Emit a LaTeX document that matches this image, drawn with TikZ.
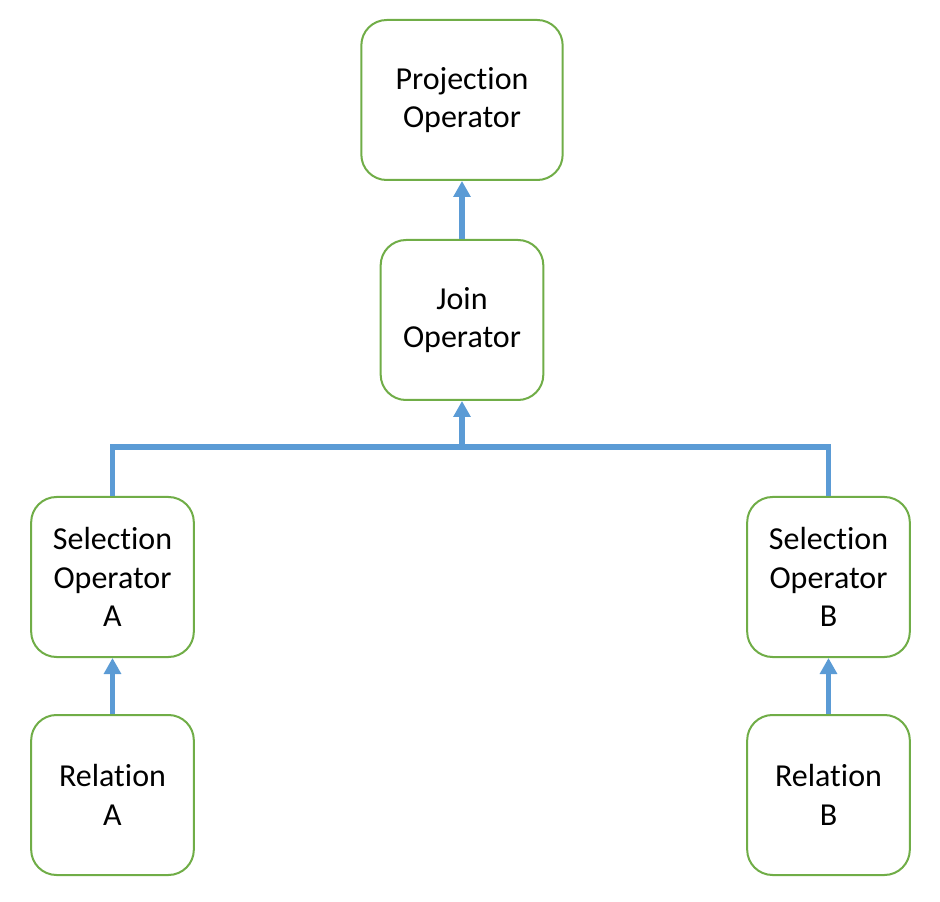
\documentclass[tikz,border=0pt]{standalone}
\usepackage{fontspec}
\setmainfont{Carlito}[Ligatures={NoCommon}]
\usetikzlibrary{arrows.meta}

\definecolor{opgreen}{RGB}{112,173,71}
\definecolor{flowblue}{RGB}{91,155,213}

\tikzset{every picture/.style={line width=0.75pt}}

\begin{document}
\begin{tikzpicture}[x=0.75pt,y=0.75pt,yscale=-1,xscale=1,
  opbox/.style={draw=opgreen,line width=1.5pt,rounded corners=19pt,fill=white,
    minimum width=122pt,minimum height=120pt,align=center,inner sep=0pt,
    font=\fontsize{24}{29}\selectfont},
  flow/.style={draw=flowblue,line width=4pt},
  flowarr/.style={flow,-{Triangle[length=12pt,width=12.5pt]}}]
\useasboundingbox (0,0) rectangle (940,902);

% Operator boxes
\node [opbox,minimum width=151pt] (proj) at (462,100) {Projection\\Operator};
\node [opbox] (join) at (462,320) {Join\\Operator};
\node [opbox] (selA) at (112.5,577) {Selection\\Operator\\A};
\node [opbox] (selB) at (828.5,577) {Selection\\Operator\\B};
\node [opbox] (relA) at (112.5,795) {Relation\\A};
\node [opbox] (relB) at (828.5,795) {Relation\\B};

% Connectors
\coordinate (bus) at (462,447);
\draw [flowarr] (relA) -- (selA);
\draw [flowarr] (relB) -- (selB);
\draw [flow,line join=miter] (selA) |- (bus) -| (selB);
\draw [flowarr] (bus) -- (join);
\draw [flowarr] (join) -- (proj);

\end{tikzpicture}
\end{document}
